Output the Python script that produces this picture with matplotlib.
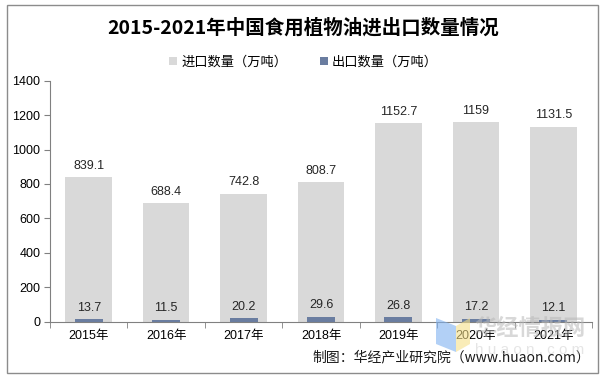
import numpy as np
import matplotlib.pyplot as plt
from matplotlib.patches import Rectangle, Polygon

plt.rcParams['font.family'] = ['Liberation Sans', 'Noto Sans CJK SC', 'DejaVu Sans']

years = ['2015年', '2016年', '2017年', '2018年', '2019年', '2020年', '2021年']
imports = [839.1, 688.4, 742.8, 808.7, 1152.7, 1159, 1131.5]
exports = [13.7, 11.5, 20.2, 29.6, 26.8, 17.2, 12.1]

W, H = 607, 379
fig = plt.figure(figsize=(W / 100, H / 100), dpi=100)
ax = fig.add_axes([50 / W, 1 - 321.7 / H, 542 / W, 241 / H])

x = np.arange(len(years))
ax.bar(x, imports, width=0.6, color='#D9D9D9', label='进口数量（万吨）', zorder=2)
ax.bar(x, exports, width=0.36, color='#6A7DA0', label='出口数量（万吨）', zorder=3)

for i in range(len(years)):
    ax.annotate(f'{imports[i]:g}', (x[i], imports[i]), xytext=(0, 4),
                textcoords='offset points', ha='center', va='bottom',
                fontsize=9, color='#262626', zorder=5)
    ax.annotate(f'{exports[i]:g}', (x[i], exports[i]), xytext=(0, 4),
                textcoords='offset points', ha='center', va='bottom',
                fontsize=9, color='#262626', zorder=5)

ax.set_xlim(-0.5, len(years) - 0.5)
ax.set_ylim(0, 1400)
ax.set_yticks(range(0, 1401, 200))
ax.set_xticks(x)
ax.set_xticklabels(years)
ax.set_xticks(np.arange(-0.5, len(years), 1), minor=True)
ax.tick_params(axis='x', which='major', length=0, labelsize=9, pad=6)
ax.tick_params(axis='x', which='minor', length=4, color='#808080', direction='out')
ax.tick_params(axis='y', length=4, color='#808080', labelsize=9, pad=3)
for s in ['top', 'right']:
    ax.spines[s].set_visible(False)
for s in ['left', 'bottom']:
    ax.spines[s].set_color('#808080')

fig.text(0.5, 1 - 28 / H, '2015-2021年中国食用植物油进出口数量情况', ha='center', va='center',
         fontsize=14, fontweight='bold', family=['Noto Sans CJK SC'])
fig.legend(loc='center', bbox_to_anchor=(0.5, 1 - 62 / H), ncol=2, frameon=False,
           handlelength=0.6, handleheight=0.6, columnspacing=2.5,
           handletextpad=0.3, prop={'family': ['Noto Sans CJK SC'], 'size': 9.5})

fig.text(590 / W, 1 - 357 / H, '制图：华经产业研究院（www.huaon.com）', ha='right', va='center',
         fontsize=10, family=['Noto Sans CJK SC', 'Liberation Sans'], color='#1a1a1a')

# watermark
fig.patches.append(Polygon([(436 / W, 1 - 318 / H), (456 / W, 1 - 326 / H),
                            (456 / W, 1 - 352 / H), (436 / W, 1 - 344 / H)],
                           closed=True, transform=fig.transFigure,
                           facecolor='#7fb2f0', alpha=0.6, edgecolor='none'))
fig.patches.append(Polygon([(456 / W, 1 - 326 / H), (470 / W, 1 - 318 / H),
                            (470 / W, 1 - 344 / H), (456 / W, 1 - 352 / H)],
                           closed=True, transform=fig.transFigure,
                           facecolor='#f5e08a', alpha=0.6, edgecolor='none'))
fig.text(530 / W, 1 - 328 / H, '华经情报网', ha='center', va='center', fontsize=16,
         fontweight='bold', color='#b8b8b8', alpha=0.55, family=['Noto Sans CJK SC'])
fig.text(530 / W, 1 - 350 / H, 'h u a o n . c o m', ha='center', va='center', fontsize=11,
         color='#cccccc', alpha=0.5)

fig.patches.append(Rectangle((7 / W, 1 - 373 / H), 591 / W, 368 / H, transform=fig.transFigure,
                             fill=False, edgecolor='#8c8c8c', linewidth=1))

fig.savefig('out.png', dpi=100)
